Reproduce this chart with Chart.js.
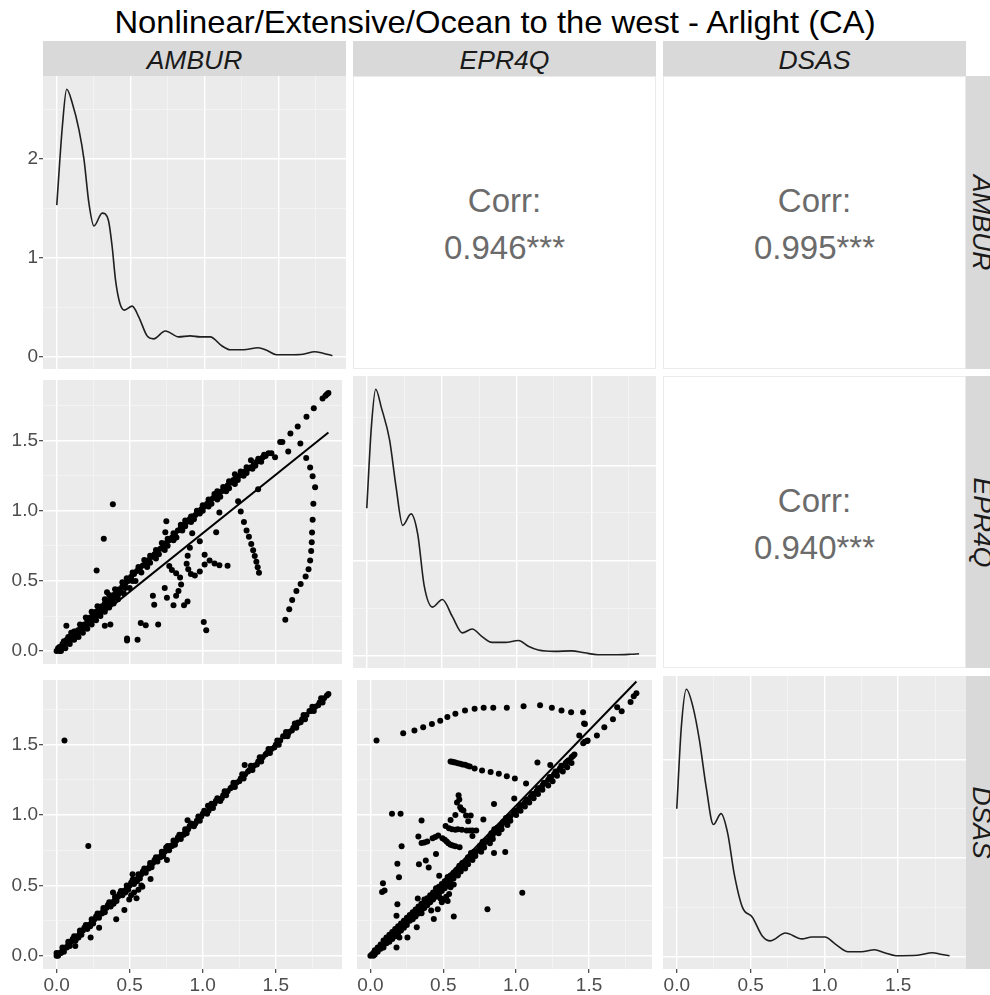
<!DOCTYPE html>
<html>
<head>
<meta charset="utf-8">
<script src="https://cdn.jsdelivr.net/npm/chart.js@4.4.0/dist/chart.umd.min.js"></script>
<style>
	body { margin: 0; width: 990px; height: 995px; overflow: hidden; background: #fff; position: relative; font-family: "Liberation Sans", Arial, sans-serif; }
	.title { position: absolute; left: 0; top: 4px; width: 990px; text-align: center; font-size: 31.5px; line-height: 36px; color: #000; white-space: nowrap; transform: scaleX(1.04); }
	.strip { position: absolute; background: #d9d9d9; color: #1a1a1a; font-style: italic; font-size: 26.5px; text-align: center; overflow: hidden; }
	.strip span { position: relative; top: 2px; }
	.vlab { position: absolute; height: 35px; line-height: 35px; text-align: center; transform: rotate(90deg); }
	.corr { position: absolute; background: #fff; border: 1px solid #ebebeb; box-sizing: border-box; color: #6b6b6b; font-size: 33px; }
	.corr div { position: absolute; left: 0; width: 100%; text-align: center; line-height: 36px; }
</style>
</head>
<body>
<div class="title" id="title"></div>
<script>
'use strict';

var title = 'Nonlinear/Extensive/Ocean to the west - Arlight (CA)';
var variables = ['AMBUR', 'EPR4Q', 'DSAS'];
// upper panels: (AMBUR,EPR4Q), (AMBUR,DSAS), (EPR4Q,DSAS)
var corrLabels = ['0.946***', '0.995***', '0.940***'];

var majorTicks = [0, 0.5, 1, 1.5];
var minorTicks = [0.25, 0.75, 1.25, 1.75];
var majorTickLabels = ['0.0', '0.5', '1.0', '1.5'];
var densMajorTicks = [0, 1, 2];
var densMinorTicks = [0.5, 1.5, 2.5];
var densTickLabels = ['0', '1', '2'];

// density curves on the diagonal
var ambDensX = [0, 0.038, 0.067, 0.105, 0.150, 0.184, 0.217, 0.251, 0.307, 0.348, 0.374, 0.397, 0.426, 0.457, 0.509, 0.554, 0.610, 0.654, 0.733, 0.823, 0.901, 0.968, 1.036, 1.114, 1.170, 1.260, 1.360, 1.417, 1.484, 1.574, 1.663, 1.742, 1.798, 1.861];
var ambDensY = [1.53, 2.33, 2.70, 2.56, 2.29, 1.99, 1.55, 1.32, 1.45, 1.38, 1.11, 0.77, 0.54, 0.47, 0.51, 0.40, 0.21, 0.18, 0.26, 0.20, 0.21, 0.20, 0.20, 0.11, 0.07, 0.07, 0.09, 0.065, 0.02, 0.02, 0.025, 0.05, 0.035, 0.01];
var eprDensX = [0, 0.031, 0.060, 0.097, 0.152, 0.196, 0.240, 0.296, 0.340, 0.384, 0.439, 0.505, 0.572, 0.638, 0.704, 0.770, 0.836, 0.925, 1.013, 1.079, 1.146, 1.256, 1.366, 1.455, 1.543, 1.675, 1.764, 1.819];
var eprDensY = [1.55, 2.41, 2.80, 2.61, 2.27, 1.77, 1.37, 1.49, 1.28, 0.73, 0.51, 0.59, 0.41, 0.24, 0.28, 0.20, 0.14, 0.14, 0.16, 0.10, 0.06, 0.045, 0.05, 0.03, 0.01, 0.01, 0.015, 0.02];
var dsasDensX = [0, 0.031, 0.065, 0.110, 0.154, 0.199, 0.248, 0.300, 0.345, 0.389, 0.445, 0.512, 0.579, 0.635, 0.736, 0.848, 0.915, 1.004, 1.072, 1.161, 1.250, 1.340, 1.407, 1.485, 1.631, 1.732, 1.787, 1.848];
var dsasDensY = [1.50, 2.33, 2.71, 2.53, 2.19, 1.72, 1.34, 1.45, 1.25, 0.84, 0.50, 0.40, 0.21, 0.16, 0.24, 0.18, 0.20, 0.20, 0.13, 0.05, 0.05, 0.07, 0.04, 0.01, 0.015, 0.04, 0.025, 0.01];

// x = AMBUR, y = EPR4Q
var ambEprPoints = [
	[0.00,0.00],[0.01,0.02],[0.03,0.03],[0.04,0.05],[0.06,0.06],[0.07,0.08],[0.09,0.10],[0.11,0.11],[0.13,0.14],[0.15,0.15],
	[0.17,0.18],[0.19,0.19],[0.21,0.22],[0.23,0.24],[0.25,0.26],[0.27,0.28],[0.29,0.30],[0.31,0.32],[0.33,0.34],[0.35,0.36],
	[0.37,0.38],[0.39,0.40],[0.41,0.42],[0.43,0.44],[0.45,0.46],[0.47,0.48],[0.49,0.50],[0.51,0.53],[0.53,0.55],[0.55,0.57],
	[0.57,0.59],[0.59,0.61],[0.61,0.63],[0.63,0.65],[0.65,0.67],[0.67,0.69],[0.69,0.71],[0.71,0.73],[0.73,0.75],[0.75,0.77],
	[0.77,0.79],[0.79,0.81],[0.81,0.83],[0.83,0.86],[0.85,0.88],[0.87,0.90],[0.89,0.92],[0.91,0.94],[0.93,0.96],[0.95,0.97],
	[0.97,0.99],[0.99,1.01],[1.01,1.03],[1.03,1.05],[1.05,1.07],[1.07,1.09],[1.09,1.11],[1.11,1.12],[1.13,1.14],[1.15,1.16],
	[1.17,1.18],[1.19,1.20],[1.21,1.22],[1.23,1.24],[1.25,1.25],[1.27,1.27],[1.29,1.28],[1.31,1.30],[1.33,1.31],[1.35,1.33],
	[1.37,1.35],[1.39,1.36],[1.41,1.38],[1.43,1.39],[1.45,1.41],[1.47,1.41],
	[0.02,0.00],[0.05,0.03],[0.08,0.06],[0.10,0.08],[0.12,0.10],[0.14,0.12],[0.16,0.14],[0.18,0.16],[0.20,0.18],[0.22,0.20],
	[0.24,0.22],[0.26,0.24],[0.28,0.26],[0.30,0.28],[0.32,0.30],[0.34,0.32],[0.36,0.34],[0.38,0.36],[0.40,0.38],[0.42,0.40],
	[0.44,0.42],[0.47,0.45],[0.52,0.50],[0.58,0.56],[0.64,0.63],[0.70,0.69],[0.76,0.75],[0.82,0.81],[0.88,0.89],[0.94,0.94],
	[1.00,1.00],[1.06,1.05],[1.12,1.10],[1.18,1.16],[1.24,1.22],[1.30,1.27],[1.36,1.32],
	[0.03,0.00],[0.06,0.02],[0.09,0.05],[0.12,0.08],[0.15,0.10],[0.18,0.13],[0.21,0.16],[0.24,0.19],[0.27,0.22],[0.30,0.25],
	[0.33,0.28],[0.36,0.31],[0.39,0.34],[0.42,0.37],[0.46,0.41],[0.50,0.45],[0.54,0.50],[0.62,0.60],[0.68,0.66],[0.74,0.72],
	[0.80,0.79],[0.86,0.86],[0.92,0.92],[0.98,0.98],[1.04,1.03],[1.10,1.08],[1.16,1.14],[1.22,1.19],[1.28,1.25],[1.34,1.30],[1.40,1.35],
	[0.02,0.03],[0.05,0.07],[0.08,0.10],[0.12,0.14],[0.16,0.19],[0.24,0.28],[0.28,0.32],[0.36,0.40],[0.40,0.44],[0.48,0.52],
	[0.52,0.56],[0.56,0.60],[0.64,0.68],[0.68,0.72],[0.76,0.80],[0.80,0.84],[0.88,0.93],[0.92,0.96],[1.00,1.04],[1.04,1.08],
	[1.08,1.12],[1.14,1.17],[1.18,1.21],[1.26,1.28],[1.30,1.31],[1.38,1.37],[1.42,1.40],
	[0.10,0.13],[0.20,0.24],[0.33,0.37],[0.45,0.49],[0.60,0.65],[0.72,0.77],[0.85,0.90],[0.96,1.00],[1.10,1.14],[1.22,1.26],[1.33,1.36],
	[0.385,1.046],[0.323,0.80],[0.274,0.575],[0.067,0.18],[0.33,0.18],[0.368,0.19],[0.345,0.42],[0.482,0.09],[0.482,0.075],[0.554,0.08],
	[0.576,0.20],[0.61,0.185],[0.695,0.19],[0.659,0.395],[0.668,0.33],[0.74,0.45],[0.755,0.38],[0.751,0.925],[0.744,0.847],[0.80,0.327],
	[0.872,0.327],[0.896,0.354],
	[0.771,0.607],[0.789,0.578],[0.818,0.555],[0.845,0.524],[0.852,0.474],[0.834,0.428],[0.818,0.395],
	[0.912,0.737],[0.897,0.68],[0.89,0.623],[0.901,0.584],[0.919,0.55],[0.946,0.539],[0.98,0.568],[1.013,0.618],[1.047,0.646],[1.081,0.624],
	[1.114,0.612],[1.17,0.608],[0.98,0.783],[1.013,0.687],[0.928,0.84],[1.114,0.988],[1.092,0.847],[1.007,0.208],[1.024,0.148],
	[1.26,0.995],[1.282,0.92],[1.30,0.86],[1.316,0.815],[1.332,0.764],[1.345,0.719],[1.356,0.678],[1.367,0.637],[1.376,0.598],[1.385,0.559],
	[1.242,1.068],[1.379,1.153],[1.495,1.381],
	[1.53,1.49],[1.545,1.49],[1.60,1.55],[1.65,1.60],[1.71,1.67],[1.76,1.73],[1.82,1.80],[1.84,1.82],[1.85,1.83],[1.86,1.84],
	[1.565,0.224],[1.592,0.299],[1.612,0.365],[1.641,0.429],[1.670,0.479],[1.704,0.532],[1.724,0.584],[1.735,0.646],[1.742,0.714],[1.746,0.776],
	[1.748,0.845],[1.752,0.936],[1.757,1.05],[1.769,1.167],[1.752,1.246],[1.735,1.308],[1.708,1.377],[1.668,1.48],[1.585,1.423]
];
var ambEprFit = [0.005, 0.835];

// x = AMBUR, y = DSAS
var ambDsasPoints = [
	[0.00,0.00],[0.02,0.02],[0.04,0.04],[0.06,0.06],[0.08,0.08],[0.10,0.10],[0.12,0.12],[0.14,0.14],[0.16,0.16],[0.18,0.18],
	[0.20,0.20],[0.22,0.22],[0.24,0.24],[0.26,0.26],[0.28,0.28],[0.30,0.30],[0.32,0.32],[0.34,0.34],[0.36,0.36],[0.38,0.38],
	[0.40,0.40],[0.42,0.42],[0.44,0.44],[0.46,0.46],[0.48,0.48],[0.50,0.50],[0.52,0.52],[0.54,0.54],[0.56,0.56],[0.58,0.58],
	[0.60,0.60],[0.62,0.62],[0.64,0.64],[0.66,0.66],[0.68,0.68],[0.70,0.70],[0.72,0.72],[0.74,0.74],[0.76,0.76],[0.78,0.78],
	[0.80,0.80],[0.82,0.82],[0.84,0.84],[0.86,0.86],[0.88,0.88],[0.90,0.90],[0.93,0.93],[0.96,0.96],[0.99,0.99],[1.02,1.02],
	[1.05,1.05],[1.08,1.08],[1.11,1.11],[1.14,1.14],[1.17,1.17],[1.20,1.20],[1.23,1.23],[1.26,1.26],[1.29,1.29],[1.32,1.32],
	[1.35,1.35],[1.38,1.38],[1.41,1.41],[1.44,1.44],[1.47,1.47],[1.50,1.50],[1.53,1.53],[1.56,1.56],[1.59,1.59],[1.62,1.62],
	[1.65,1.65],[1.68,1.68],[1.71,1.71],[1.74,1.74],[1.77,1.77],[1.80,1.80],[1.83,1.83],[1.85,1.85],[1.86,1.86],
	[0.03,0.02],[0.07,0.06],[0.11,0.12],[0.15,0.13],[0.19,0.20],[0.23,0.21],[0.27,0.28],[0.31,0.30],[0.35,0.36],[0.39,0.37],
	[0.43,0.44],[0.47,0.45],[0.51,0.52],[0.55,0.53],[0.59,0.60],[0.63,0.62],[0.67,0.68],[0.71,0.70],[0.75,0.77],[0.79,0.78],
	[0.83,0.84],[0.87,0.86],[0.91,0.92],[0.95,0.94],[1.00,1.01],[1.04,1.03],[1.09,1.10],[1.13,1.12],[1.19,1.19],[1.25,1.24],
	[1.31,1.31],[1.37,1.36],[1.43,1.43],[1.49,1.48],[1.55,1.56],[1.61,1.60],[1.67,1.66],[1.73,1.74],[1.79,1.78],
	[0.01,0.00],[0.05,0.03],[0.09,0.07],[0.13,0.11],[0.17,0.15],[0.21,0.19],[0.25,0.23],[0.29,0.27],[0.33,0.31],[0.37,0.35],
	[0.41,0.39],[0.45,0.43],[0.49,0.47],[0.53,0.51],[0.57,0.55],[0.61,0.59],[0.65,0.63],[0.69,0.67],[0.73,0.71],[0.77,0.75],
	[0.81,0.79],[0.85,0.83],[0.89,0.87],[0.94,0.92],[0.98,0.96],[1.03,1.01],[1.07,1.05],[1.12,1.10],[1.16,1.14],[1.22,1.20],
	[1.28,1.26],[1.34,1.32],[1.40,1.38],[1.46,1.44],[1.52,1.50],[1.58,1.56],[1.64,1.62],[1.70,1.68],[1.76,1.74],[1.82,1.80],
	[0.00,0.02],[0.04,0.06],[0.08,0.10],[0.12,0.14],[0.16,0.18],[0.20,0.22],[0.24,0.26],[0.28,0.30],[0.32,0.34],[0.36,0.38],
	[0.40,0.42],[0.44,0.46],[0.48,0.50],[0.52,0.54],[0.56,0.58],[0.60,0.62],[0.64,0.66],[0.68,0.70],[0.72,0.74],[0.76,0.78],
	[0.80,0.82],[0.84,0.86],[0.88,0.90],[0.92,0.94],[0.97,0.99],[1.01,1.03],[1.06,1.08],[1.10,1.12],[1.15,1.17],[1.21,1.23],
	[1.27,1.29],[1.33,1.35],[1.39,1.41],[1.45,1.47],[1.51,1.53],[1.57,1.59],[1.63,1.65],[1.69,1.71],[1.75,1.77],[1.81,1.83],
	[0.054,1.53],[0.217,0.78],[1.287,1.356],[0.464,0.326],[0.408,0.26],[0.291,0.20],[0.233,0.13],[0.128,0.07],[0.755,0.68],[0.643,0.546],
	[0.52,0.58],[0.587,0.49],[0.547,0.41],[0.497,0.40],[0.386,0.45],[0.896,0.963],[1.036,1.067],[1.585,1.58],[1.652,1.657],
	[0.51,0.43],[0.53,0.45],[0.56,0.47],[0.58,0.50]
];
var ambDsasFit = [0.0, 1.003];

// x = EPR4Q, y = DSAS
var eprDsasPoints = [
	[0.00,0.00],[0.02,0.02],[0.04,0.03],[0.06,0.05],[0.08,0.07],[0.10,0.09],[0.12,0.11],[0.14,0.13],[0.16,0.15],[0.18,0.17],
	[0.20,0.19],[0.22,0.21],[0.24,0.23],[0.26,0.25],[0.28,0.27],[0.30,0.29],[0.32,0.31],[0.34,0.33],[0.36,0.35],[0.38,0.37],
	[0.40,0.39],[0.42,0.41],[0.44,0.43],[0.46,0.45],[0.48,0.47],[0.50,0.49],[0.52,0.51],[0.54,0.54],[0.56,0.56],[0.58,0.58],
	[0.60,0.60],[0.62,0.62],[0.64,0.65],[0.66,0.67],[0.68,0.69],[0.70,0.71],[0.72,0.73],[0.74,0.75],[0.76,0.78],[0.78,0.80],
	[0.80,0.82],[0.82,0.84],[0.84,0.86],[0.86,0.88],[0.88,0.90],[0.90,0.93],[0.92,0.95],[0.94,0.97],[0.96,0.99],[0.98,1.01],
	[1.00,1.03],[1.02,1.05],[1.04,1.07],[1.06,1.09],[1.08,1.11],[1.10,1.13],[1.12,1.15],[1.14,1.17],[1.16,1.19],[1.18,1.21],
	[1.20,1.23],[1.22,1.25],[1.24,1.27],[1.26,1.29],[1.28,1.31],[1.30,1.33],[1.32,1.35],[1.34,1.37],[1.36,1.39],[1.38,1.41],[1.40,1.43],
	[0.03,0.01],[0.07,0.05],[0.11,0.09],[0.15,0.12],[0.19,0.16],[0.23,0.20],[0.27,0.25],[0.31,0.28],[0.35,0.32],[0.39,0.36],
	[0.43,0.40],[0.47,0.44],[0.51,0.48],[0.55,0.52],[0.60,0.57],[0.65,0.62],[0.70,0.68],[0.76,0.74],[0.82,0.80],[0.88,0.87],
	[0.94,0.93],[1.00,1.00],[1.06,1.06],[1.12,1.12],[1.18,1.18],[1.25,1.24],[1.32,1.31],[1.38,1.37],
	[0.02,0.00],[0.05,0.03],[0.09,0.06],[0.13,0.10],[0.17,0.14],[0.21,0.18],[0.25,0.22],[0.29,0.26],[0.33,0.30],[0.37,0.34],
	[0.41,0.38],[0.45,0.42],[0.49,0.46],[0.53,0.50],[0.57,0.55],[0.62,0.60],[0.67,0.65],[0.72,0.71],[0.78,0.77],[0.84,0.83],
	[0.90,0.90],[0.96,0.96],[1.03,1.03],[1.09,1.09],[1.15,1.15],[1.22,1.21],[1.28,1.28],[1.35,1.34],
	[0.01,0.01],[0.03,0.04],[0.07,0.08],[0.09,0.11],[0.11,0.13],[0.15,0.17],[0.17,0.19],[0.19,0.21],[0.23,0.25],[0.25,0.27],
	[0.27,0.29],[0.31,0.33],[0.33,0.35],[0.35,0.37],[0.39,0.41],[0.41,0.43],[0.43,0.45],[0.47,0.49],[0.49,0.51],[0.51,0.53],
	[0.55,0.57],[0.57,0.59],[0.59,0.61],[0.63,0.66],[0.67,0.70],[0.71,0.74],[0.75,0.78],[0.79,0.82],[0.83,0.87],[0.87,0.91],
	[0.91,0.95],[0.95,0.99],[0.99,1.03],[1.03,1.07],[1.07,1.11],[1.11,1.15],[1.15,1.19],[1.19,1.23],[1.23,1.27],[1.27,1.31],
	[1.31,1.35],[1.35,1.38],[1.39,1.42],
	[0.05,0.06],[0.13,0.15],[0.21,0.23],[0.29,0.31],[0.37,0.40],[0.45,0.48],[0.53,0.56],[0.61,0.64],[0.69,0.73],[0.77,0.81],[0.85,0.90],[0.93,0.98],
	[0.48,0.41],[0.50,0.40],[0.52,0.42],[0.54,0.44],[0.49,0.38],[0.53,0.39],
	[0.042,1.53],[0.225,1.581],[0.302,1.60],[0.362,1.623],[0.422,1.646],[0.479,1.67],[0.528,1.697],[0.583,1.72],[0.649,1.743],[0.715,1.755],
	[0.777,1.762],[0.843,1.762],[0.936,1.762],[1.051,1.773],[1.164,1.78],[1.245,1.762],[1.311,1.743],[1.377,1.731],[1.459,1.731],[1.466,1.65],
	[0.55,1.38],[0.561,1.378],[0.572,1.376],[0.583,1.373],[0.60,1.368],[0.616,1.364],[0.632,1.36],[0.649,1.357],[0.665,1.35],[0.682,1.345],
	[0.715,1.331],[0.766,1.317],[0.825,1.305],[0.881,1.294],[0.936,1.275],[0.991,1.259],[1.068,1.224],
	[1.433,1.565],[1.488,1.526],[1.554,1.565],[1.605,1.623],[1.664,1.68],[1.724,1.738],[1.785,1.803],[1.807,1.843],[1.825,1.866],[1.472,1.646],
	[1.693,1.766],[1.146,1.373],[1.234,1.356],[1.46,1.51],[1.47,1.52],[1.49,1.53],
	[0.605,1.141],[0.594,1.09],[0.616,1.055],[0.638,1.032],[0.656,0.997],[0.671,0.956],[0.583,1.0],[0.55,0.965],[0.516,0.923],[0.539,0.907],
	[0.583,0.895],[0.627,0.895],[0.682,0.891],[0.726,0.891],[0.61,1.11],[0.625,1.04],[0.60,0.90],[0.56,0.90],[0.66,0.89],[0.70,0.89],
	[0.351,0.801],[0.39,0.812],[0.427,0.836],[0.465,0.854],[0.494,0.836],[0.523,0.812],[0.55,0.789],[0.583,0.778],[0.612,0.771],[0.37,0.805],
	[0.445,0.845],[0.51,0.825],[0.535,0.80],[0.565,0.783],
	[0.148,1.009],[0.207,1.009],[0.214,0.778],[0.351,0.961],[0.329,0.847],[0.688,0.997],[0.775,0.969],[0.848,1.079],[0.70,0.852],[0.185,0.655],
	[0.196,0.558],[0.333,0.65],[0.38,0.678],[0.40,0.627],[0.45,0.724],[0.472,0.569],[0.086,0.516],[0.08,0.454],[0.097,0.465],[0.185,0.366],
	[0.179,0.285],[0.325,0.407],[0.351,0.303],[0.417,0.322],[0.435,0.262],[0.462,0.331],[0.318,0.204],[0.199,0.13],[0.254,0.13],[0.179,0.06],
	[0.572,0.28],[0.803,0.331],[1.042,0.449],[0.848,0.731],[0.925,0.738],[0.987,1.118],[0.55,0.488],[0.572,0.507],[0.483,0.408]
];
var eprDsasFit = [0.0, 1.068];

var FONT = '"Liberation Sans", Arial, sans-serif';
Chart.defaults.font.family = FONT;

var colLeft = [43, 353, 663];
var rowTop = [76, 376, 676];
var rowH = [293, 292, 293];
var panelW = 303;
var yAxisW = 43;
var xAxisH = 26;

function column(pts, k) {
	return pts.map(function(p) { return p[k]; });
}

function maxOf(arr) {
	return Math.max.apply(null, arr);
}

function expand(lo, hi) {
	var d = (hi - lo) * 0.05;
	return [lo - d, hi + d];
}

var varRange = [
	expand(0, Math.max(maxOf(column(ambEprPoints, 0)), maxOf(column(ambDsasPoints, 0)))),
	expand(0, Math.max(maxOf(column(ambEprPoints, 1)), maxOf(column(eprDsasPoints, 0)))),
	expand(0, Math.max(maxOf(column(ambDsasPoints, 1)), maxOf(column(eprDsasPoints, 1))))
];

var panelBg = {
	id: 'panelBg',
	beforeDraw: function(chart) {
		var a = chart.chartArea;
		var ctx = chart.ctx;
		ctx.save();
		ctx.fillStyle = '#ebebeb';
		ctx.fillRect(a.left, a.top, a.right - a.left, a.bottom - a.top);
		ctx.restore();
	}
};

function isIn(list, v) {
	return list.some(function(t) { return Math.abs(t - v) < 1e-9; });
}

function makeAxis(horizontal, range, major, minor, labels, showLabels) {
	var size = showLabels ? (horizontal ? xAxisH : yAxisW) : 0;
	return {
		type: 'linear',
		position: horizontal ? 'bottom' : 'left',
		min: range[0],
		max: range[1],
		afterBuildTicks: function(s) {
			s.ticks = major.concat(minor).sort(function(a, b) { return a - b; })
				.map(function(v) { return {value: v}; });
		},
		afterFit: function(s) {
			if (horizontal) {
				s.height = size;
				s.paddingLeft = 0;
				s.paddingRight = 0;
			} else {
				s.width = size;
				s.paddingTop = 0;
				s.paddingBottom = 0;
			}
		},
		border: {display: false},
		grid: {
			color: function(c) { return isIn(major, c.tick.value) ? '#ffffff' : '#f7f7f7'; },
			lineWidth: function(c) { return isIn(major, c.tick.value) ? 1.4 : 0.7; },
			drawTicks: showLabels,
			tickLength: 4,
			tickWidth: 1.1,
			tickColor: function(c) { return isIn(major, c.tick.value) ? '#333333' : 'rgba(0,0,0,0)'; }
		},
		ticks: {
			display: showLabels,
			autoSkip: false,
			maxRotation: 0,
			minRotation: 0,
			padding: 1,
			color: '#4d4d4d',
			font: {family: FONT, size: 19},
			callback: function(v) {
				for (var i = 0; i < major.length; i++) {
					if (Math.abs(major[i] - v) < 1e-9) return labels[i];
				}
				return '';
			}
		}
	};
}

function makeCanvas(col, row) {
	var left = colLeft[col] - (col === 0 ? yAxisW : 0);
	var w = panelW + (col === 0 ? yAxisW : 0);
	var h = rowH[row] + (row === 2 ? xAxisH : 0);
	var c = document.createElement('canvas');
	c.width = w;
	c.height = h;
	c.style.cssText = 'position:absolute;left:' + left + 'px;top:' + rowTop[row] + 'px;width:' + w + 'px;height:' + h + 'px;';
	document.body.appendChild(c);
	return c;
}

function baseOptions(scales) {
	return {
		responsive: false,
		animation: false,
		events: [],
		layout: {padding: 0},
		plugins: {legend: {display: false}, tooltip: {enabled: false}},
		scales: scales
	};
}

function densityPanel(i, xs, ys) {
	var yr = expand(Math.min.apply(null, ys), maxOf(ys));
	new Chart(makeCanvas(i, i), {
		type: 'line',
		data: {
			datasets: [{
				data: xs.map(function(x, k) { return {x: x, y: ys[k]}; }),
				borderColor: '#1f1f1f',
				borderWidth: 1.6,
				pointRadius: 0,
				fill: false,
				cubicInterpolationMode: 'monotone'
			}]
		},
		options: baseOptions({
			x: makeAxis(true, varRange[i], majorTicks, minorTicks, majorTickLabels, i === 2),
			y: makeAxis(false, yr, densMajorTicks, densMinorTicks, densTickLabels, i === 0)
		}),
		plugins: [panelBg]
	});
}

function scatterPanel(col, row, pts, fit) {
	var xMax = maxOf(column(pts, 0));
	new Chart(makeCanvas(col, row), {
		type: 'scatter',
		data: {
			datasets: [{
				type: 'line',
				data: [{x: 0, y: fit[0]}, {x: xMax, y: fit[0] + fit[1] * xMax}],
				borderColor: '#000000',
				borderWidth: 2,
				pointRadius: 0,
				fill: false
			}, {
				data: pts.map(function(p) { return {x: p[0], y: p[1]}; }),
				backgroundColor: '#000000',
				borderWidth: 0,
				pointRadius: 3
			}]
		},
		options: baseOptions({
			x: makeAxis(true, varRange[col], majorTicks, minorTicks, majorTickLabels, row === 2),
			y: makeAxis(false, varRange[row], majorTicks, minorTicks, majorTickLabels, col === 0)
		}),
		plugins: [panelBg]
	});
}

function addDiv(cls, left, top, w, h, html) {
	var d = document.createElement('div');
	d.className = cls;
	d.style.left = left + 'px';
	d.style.top = top + 'px';
	d.style.width = w + 'px';
	d.style.height = h + 'px';
	d.innerHTML = html;
	document.body.appendChild(d);
	return d;
}

document.getElementById('title').textContent = title;

variables.forEach(function(name, i) {
	var s = addDiv('strip', colLeft[i], 41, panelW, 35, '<span>' + name + '</span>');
	s.style.lineHeight = '35px';
	var r = addDiv('strip', 966, rowTop[i], 35, rowH[i], '');
	var lab = document.createElement('div');
	lab.className = 'vlab';
	lab.style.width = rowH[i] + 'px';
	lab.style.left = ((35 - rowH[i]) / 2) + 'px';
	lab.style.top = ((rowH[i] - 35) / 2) + 'px';
	lab.innerHTML = '<span>' + name + '</span>';
	r.appendChild(lab);
});

var corrCells = [[1, 0], [2, 0], [2, 1]];
corrCells.forEach(function(cell, k) {
	var col = cell[0], row = cell[1];
	var h = rowH[row];
	var d = addDiv('corr', colLeft[col], rowTop[row], panelW, h, '');
	var a = document.createElement('div');
	a.style.top = (h / 2 - 22.5 - 18) + 'px';
	a.textContent = 'Corr:';
	var b = document.createElement('div');
	b.style.top = (h / 2 + 24.5 - 18) + 'px';
	b.textContent = corrLabels[k];
	d.appendChild(a);
	d.appendChild(b);
});

densityPanel(0, ambDensX, ambDensY);
densityPanel(1, eprDensX, eprDensY);
densityPanel(2, dsasDensX, dsasDensY);
scatterPanel(0, 1, ambEprPoints, ambEprFit);
scatterPanel(0, 2, ambDsasPoints, ambDsasFit);
scatterPanel(1, 2, eprDsasPoints, eprDsasFit);
</script>
</body>
</html>
